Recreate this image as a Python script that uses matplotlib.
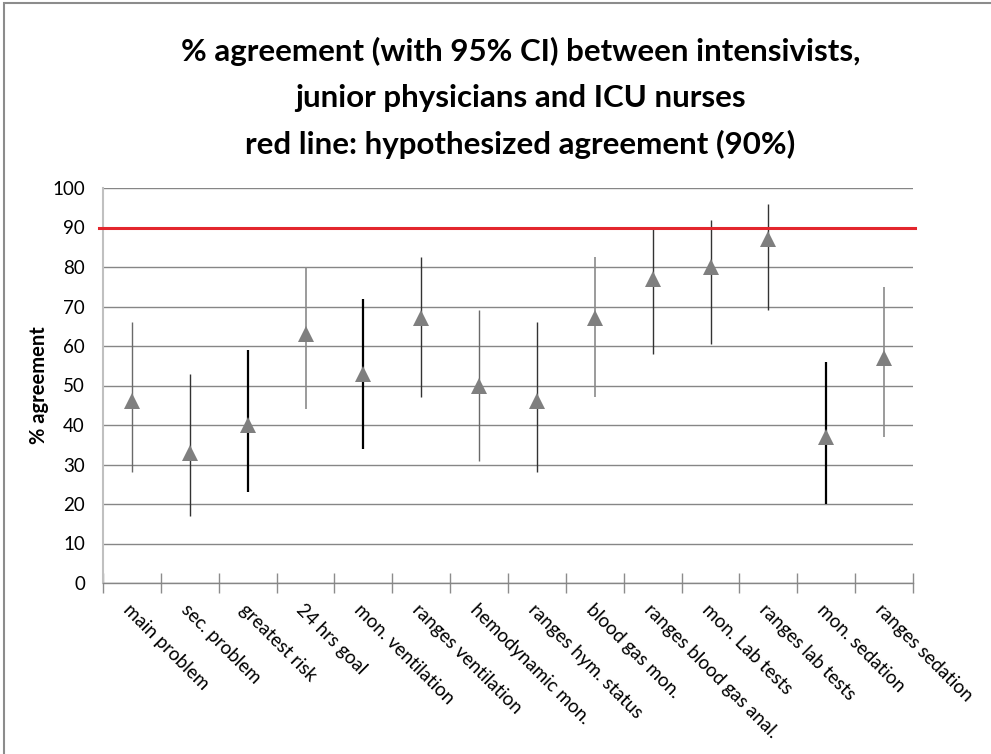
import numpy as np
import matplotlib
matplotlib.use("Agg")
import matplotlib.pyplot as plt
from matplotlib.patches import Rectangle

# % agreement per item with 95% confidence interval
items = ["main problem", "sec. problem", "greatest risk", "24 hrs goal",
         "mon. ventilation", "ranges ventilation", "hemodynamic mon.",
         "ranges hym. status", "blood gas mon.", "ranges blood gas anal.",
         "mon. Lab tests", "ranges lab tests", "mon. sedation", "ranges sedation"]
agreement = [46, 33, 40, 63, 53, 67, 50, 46, 67, 77, 80, 87, 37, 57]
ci_low = [28, 17, 23, 44, 34, 47, 31, 28, 47, 58, 60.5, 69, 20, 37]
ci_high = [66, 53, 59, 80, 72, 82.5, 69, 66, 82.5, 90, 92, 96, 56, 75]
hypothesized = 90

# whisker look (the exported sheet renders some bars heavier than others)
bar_colors = ["#6a6a6a", "#333333", "#000000", "#8a8a8a", "#000000", "#333333", "#6a6a6a",
              "#333333", "#8a8a8a", "#333333", "#333333", "#333333", "#000000", "#8a8a8a"]
bar_widths = [1.0, 1.0, 1.6, 1.2, 1.6, 1.0, 1.0, 1.0, 1.2, 1.0, 1.0, 1.0, 1.6, 1.2]

plt.rcParams['font.family'] = ['Lato', 'DejaVu Sans']

fig = plt.figure(figsize=(9.91, 7.54), dpi=100)
ax = fig.add_axes([103/991, 1 - 583/754, (913 - 103)/991, (583 - 188)/754])

x = np.arange(len(items))
for i in range(len(items)):
    ax.plot([x[i], x[i]], [ci_low[i], ci_high[i]], color=bar_colors[i],
            lw=bar_widths[i], solid_capstyle='butt', zorder=3)
ax.plot(x, agreement, linestyle='none', marker='^', markersize=11,
        color='#7f7f7f', markeredgewidth=0, zorder=4)

# hypothesized agreement line
ax.plot([-0.57, len(items) - 0.47], [hypothesized, hypothesized], color='#e3262d',
        lw=2.2, clip_on=False, zorder=5)

ax.set_xlim(-0.5, len(items) - 0.5)
ax.set_ylim(0, 100)
ax.set_yticks(np.arange(0, 101, 10))
ax.yaxis.grid(True, color='#868686', lw=1)
ax.set_axisbelow(True)
ax.tick_params(axis='y', length=0, pad=13, labelsize=13.5)

# category boundaries get the tick marks, centres get the labels
ax.set_xticks(np.arange(-0.5, len(items), 1.0))
ax.set_xticklabels([])
ax.tick_params(axis='x', which='major', direction='inout', length=14, color='#8c8c8c', width=1)
ax.set_xticks(x, minor=True)
ax.set_xticklabels(items, minor=True, rotation=-45, ha='left', va='top',
                   rotation_mode='anchor', fontsize=13.5)
ax.tick_params(axis='x', which='minor', length=0, pad=13)

for s in ['top', 'right']:
    ax.spines[s].set_visible(False)
ax.spines['left'].set_color('#c0c0c0')
ax.spines['left'].set_linewidth(1.5)
ax.spines['bottom'].set_color('#868686')
ax.spines['bottom'].set_linewidth(1)

ax.set_ylabel("% agreement", fontsize=14.5, fontweight='bold', labelpad=2)

fig.text(0.525, 1 - 98/754,
         "% agreement (with 95% CI) between intensivists,\njunior physicians and ICU nurses\n"
         "red line: hypothesized agreement (90%)",
         ha='center', va='center', fontsize=22.5, fontweight='bold', linespacing=1.75)

fig.add_artist(Rectangle((4/991, -0.1), 2, 1.1 - 3/754, transform=fig.transFigure,
                         fill=False, ec='#8c8c8c', lw=1.5))

fig.savefig("out.png", dpi=100)
